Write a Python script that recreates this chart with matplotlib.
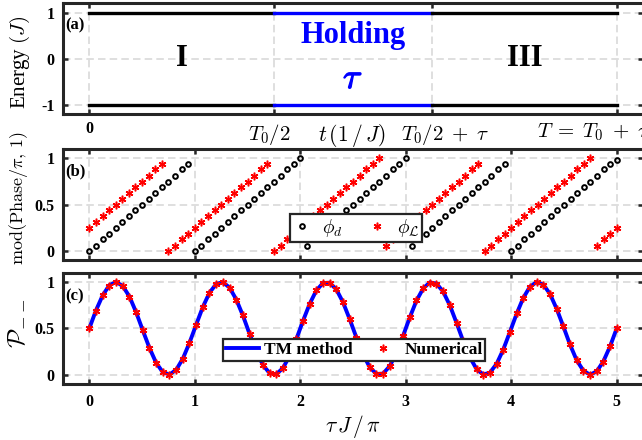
import matplotlib
matplotlib.use("Agg")
import matplotlib.pyplot as plt
import matplotlib.patheffects as pe
from matplotlib.transforms import blended_transform_factory

plt.rcParams["mathtext.fontset"] = "cm"
plt.rcParams["font.family"] = ["Liberation Serif", "DejaVu Serif"]

# (a) protocol: 0, T0/2, T0/2+tau, T (in units of pi/J, T0 = 3.5, tau = 1.5)
t_a = [0.0, 1.75, 3.25, 5.0]
e_levels = [1.0, -1.0]
t_a_labels = ["0", r"$T_0/2$", r"$T_0/2\;+\;\tau$", r"$T\;=\;T_0\;+\;\tau$"]

# (b) phases, tau J / pi
tau_b = [0.0, 0.0625, 0.125, 0.1875, 0.25, 0.3125, 0.375, 0.4375,
         0.5, 0.5625, 0.625, 0.6875, 0.75, 0.8125, 0.875, 0.9375,
         1.0, 1.0625, 1.125, 1.1875, 1.25, 1.3125, 1.375, 1.4375,
         1.5, 1.5625, 1.625, 1.6875, 1.75, 1.8125, 1.875, 1.9375,
         2.0, 2.0625, 2.125, 2.1875, 2.25, 2.3125, 2.375, 2.4375,
         2.5, 2.5625, 2.625, 2.6875, 2.75, 2.8125, 2.875, 2.9375,
         3.0, 3.0625, 3.125, 3.1875, 3.25, 3.3125, 3.375, 3.4375,
         3.5, 3.5625, 3.625, 3.6875, 3.75, 3.8125, 3.875, 3.9375,
         4.0, 4.0625, 4.125, 4.1875, 4.25, 4.3125, 4.375, 4.4375,
         4.5, 4.5625, 4.625, 4.6875, 4.75, 4.8125, 4.875, 4.9375,
         5.0]
phi_d = [0.00, 0.06, 0.13, 0.19, 0.25, 0.31, 0.38, 0.44, 0.50, 0.56, 0.63, 0.69, 0.75, 0.81, 0.88, 0.94,
         0.00, 0.06, 0.13, 0.19, 0.25, 0.31, 0.38, 0.44, 0.50, 0.56, 0.63, 0.69, 0.75, 0.81, 0.88, 0.94,
         1.00, 0.06, 0.13, 0.19, 0.25, 0.31, 0.38, 0.44, 0.50, 0.56, 0.63, 0.69, 0.75, 0.81, 0.88, 0.94,
         1.00, 0.06, 0.13, 0.19, 0.25, 0.31, 0.38, 0.44, 0.50, 0.56, 0.63, 0.69, 0.75, 0.81, 0.88, 0.94,
         0.00, 0.06, 0.13, 0.19, 0.25, 0.31, 0.38, 0.44, 0.50, 0.56, 0.63, 0.69, 0.75, 0.81, 0.88, 0.94,
         0.98]
phi_l = [0.25, 0.31, 0.38, 0.44, 0.50, 0.56, 0.63, 0.69, 0.75, 0.81, 0.88, 0.94, 0.00, 0.06, 0.13, 0.19,
         0.25, 0.31, 0.38, 0.44, 0.50, 0.56, 0.63, 0.69, 0.75, 0.81, 0.88, 0.94, 0.00, 0.06, 0.13, 0.19,
         0.25, 0.31, 0.38, 0.44, 0.50, 0.56, 0.63, 0.69, 0.75, 0.81, 0.88, 0.94, 1.00, 0.06, 0.13, 0.19,
         0.25, 0.31, 0.38, 0.44, 0.50, 0.56, 0.63, 0.69, 0.75, 0.81, 0.88, 0.94, 0.00, 0.06, 0.13, 0.19,
         0.25, 0.31, 0.38, 0.44, 0.50, 0.56, 0.63, 0.69, 0.75, 0.81, 0.88, 0.94, 1.00, 0.06, 0.13, 0.19,
         0.25]

# (c) probability P_--
tau_c = [0.0, 0.063, 0.127, 0.190, 0.253, 0.316, 0.380, 0.443, 0.506, 0.570,
         0.633, 0.696, 0.759, 0.823, 0.886, 0.949, 1.013, 1.076, 1.139, 1.203,
         1.266, 1.329, 1.392, 1.456, 1.519, 1.582, 1.646, 1.709, 1.772, 1.835,
         1.899, 1.962, 2.025, 2.089, 2.152, 2.215, 2.278, 2.342, 2.405, 2.468,
         2.532, 2.595, 2.658, 2.722, 2.785, 2.848, 2.911, 2.975, 3.038, 3.101,
         3.165, 3.228, 3.291, 3.354, 3.418, 3.481, 3.544, 3.608, 3.671, 3.734,
         3.797, 3.861, 3.924, 3.987, 4.051, 4.114, 4.177, 4.241, 4.304, 4.367,
         4.430, 4.494, 4.557, 4.620, 4.684, 4.747, 4.810, 4.873, 4.937, 5.0]
p_tm = [0.500, 0.694, 0.857, 0.965, 1.000, 0.957, 0.843, 0.675, 0.480, 0.288,
        0.129, 0.028, 0.001, 0.052, 0.172, 0.343, 0.540, 0.730, 0.884, 0.978,
        0.998, 0.939, 0.813, 0.638, 0.440, 0.253, 0.104, 0.017, 0.005, 0.071,
        0.203, 0.382, 0.579, 0.764, 0.908, 0.988, 0.992, 0.919, 0.781, 0.599,
        0.401, 0.219, 0.081, 0.008, 0.012, 0.092, 0.236, 0.421, 0.618, 0.797,
        0.930, 0.995, 0.983, 0.896, 0.747, 0.560, 0.363, 0.187, 0.061, 0.002,
        0.022, 0.116, 0.270, 0.460, 0.656, 0.828, 0.948, 0.999, 0.972, 0.871,
        0.712, 0.520, 0.325, 0.157, 0.043, 0.000, 0.035, 0.143, 0.306, 0.500]
p_num = [0.50, 0.69, 0.86, 0.96, 1.00, 0.96, 0.84, 0.68, 0.48, 0.29,
         0.13, 0.03, 0.00, 0.05, 0.17, 0.34, 0.54, 0.73, 0.88, 0.98,
         1.00, 0.94, 0.81, 0.64, 0.44, 0.25, 0.10, 0.02, 0.01, 0.07,
         0.20, 0.38, 0.58, 0.76, 0.91, 0.99, 0.99, 0.92, 0.78, 0.60,
         0.40, 0.22, 0.08, 0.01, 0.01, 0.09, 0.24, 0.42, 0.62, 0.80,
         0.93, 0.99, 0.98, 0.90, 0.75, 0.56, 0.36, 0.19, 0.06, 0.00,
         0.02, 0.12, 0.27, 0.46, 0.66, 0.83, 0.95, 1.00, 0.97, 0.87,
         0.71, 0.52, 0.33, 0.16, 0.04, 0.00, 0.04, 0.14, 0.31, 0.50]

dark = "#262626"
tick_font = {"family": "Liberation Serif", "weight": "bold", "size": 11.5}
star = (6, 2, 0)

fig = plt.figure(figsize=(6.42, 4.40), dpi=100)
ax_a = fig.add_axes([0.0981, 0.7402, 0.9036, 0.2523])
ax_b = fig.add_axes([0.0981, 0.4080, 0.9036, 0.2534])
ax_c = fig.add_axes([0.0981, 0.1273, 0.9036, 0.2530])


def style(ax):
    ax.set_xlim(-0.25, 5.25)
    ax.set_axisbelow(True)
    ax.grid(True, color="#d9d9d9", lw=1.2, ls=(0, (4.5, 2.5)))
    for s in ax.spines.values():
        s.set_linewidth(2.2)
        s.set_color(dark)
    ax.tick_params(direction="in", length=3.5, width=1.8, color=dark,
                   top=True, right=True)
    ax.tick_params(axis="y", pad=6)


# ---- (a)
style(ax_a)
for e in e_levels:
    ax_a.plot(t_a[0:2], [e, e], color="k", lw=2.4)
    ax_a.plot(t_a[1:3], [e, e], color="#0000ff", lw=2.4)
    ax_a.plot(t_a[2:4], [e, e], color="k", lw=2.4)
ax_a.set_ylim(-1.2, 1.2)
ax_a.set_yticks([-1, 0, 1])
ax_a.set_yticklabels(["-1", "0", "1"], fontdict=tick_font)
ax_a.set_xticks(t_a)
ax_a.set_xticklabels([t_a_labels[0], "", "", ""], fontdict=tick_font)
ax_a.tick_params(axis="x", pad=5)
# the math labels under (a) sit a little off their ticks, as in the original
blend = blended_transform_factory(ax_a.transData, ax_a.transAxes)
ax_a.text(1.703, -0.066, t_a_labels[1], transform=blend, ha="center",
          va="top", fontsize=15)
ax_a.text(3.37, -0.066, t_a_labels[2], transform=blend, ha="center",
          va="top", fontsize=15)
ax_a.text(4.244, -0.066, t_a_labels[3], transform=blend, ha="left",
          va="top", fontsize=15)
ax_a.text(0.497, -0.066, r"$t\,(1\,/\,J)$", transform=ax_a.transAxes,
          ha="center", va="top", fontsize=15.5)
ax_a.text(0.875, 0.0, "I", ha="center", va="center",
          fontsize=22, fontweight="bold")
ax_a.text(4.125, 0.0, "III", ha="center", va="center",
          fontsize=22, fontweight="bold")
ax_a.text(2.5, 0.5, "Holding", ha="center", va="center",
          fontsize=22, fontweight="bold", color="#0000ff")
ax_a.text(2.5, -0.45, r"$\tau$", ha="center", va="center", fontsize=25,
          color="#0000ff",
          path_effects=[pe.withStroke(linewidth=1.0, foreground="#0000ff")])
ax_a.set_ylabel(r"Energy $(J)$", fontsize=15)
ax_a.yaxis.set_label_coords(-0.053, 0.467)
ax_a.text(0.004, 0.8, "(a)", transform=ax_a.transAxes, ha="left",
          va="center", fontsize=12, fontweight="bold")

# ---- (b)
style(ax_b)
ax_b.plot(tau_b, phi_d, ls="none", marker="o", ms=3.4, mew=1.4,
          mfc="none", mec="k", label=r"$\phi_d$")
ax_b.plot(tau_b, phi_l, ls="none", marker=star, ms=5.5, mew=1.1,
          color="#ff0000", label=r"$\phi_\mathcal{L}$")
ax_b.set_ylim(-0.1, 1.1)
ax_b.set_yticks([0, 0.5, 1])
ax_b.set_yticklabels(["0", "0.5", "1"], fontdict=tick_font)
ax_b.set_xticks([0, 1, 2, 3, 4, 5])
ax_b.set_xticklabels([])
ax_b.set_ylabel(r"$\mathrm{mod(Phase}/\pi,\,1)$", fontsize=13)
ax_b.yaxis.set_label_coords(-0.057, 0.56)
ax_b.text(0.004, 0.8, "(b)", transform=ax_b.transAxes, ha="left",
          va="center", fontsize=12, fontweight="bold")
leg_b = ax_b.legend(ncol=2, loc="center", bbox_to_anchor=(0.505, 0.29),
                    fontsize=14, frameon=True, fancybox=False, framealpha=1,
                    handlelength=1.0, handletextpad=0.5, columnspacing=1.3,
                    borderpad=0.15, borderaxespad=0)
leg_b.get_frame().set_linewidth(1.6)
leg_b.get_frame().set_edgecolor(dark)

# ---- (c)
style(ax_c)
ax_c.plot(tau_c, p_tm, color="#0000ff", lw=2.8, label="TM method")
ax_c.plot(tau_c, p_num, ls="none", marker=star, ms=5.5, mew=1.1,
          color="#ff0000", label="Numerical")
ax_c.set_ylim(-0.1, 1.1)
ax_c.set_yticks([0, 0.5, 1])
ax_c.set_yticklabels(["0", "0.5", "1"], fontdict=tick_font)
ax_c.set_xticks([0, 1, 2, 3, 4, 5])
ax_c.set_xticklabels(["0", "1", "2", "3", "4", "5"], fontdict=tick_font)
ax_c.tick_params(axis="x", pad=7)
ax_c.set_xlabel(r"$\tau\,J\,/\,\pi$", fontsize=15.5)
ax_c.xaxis.set_label_coords(0.5, -0.262)
ax_c.set_ylabel(r"$\mathcal{P}_{--}$", fontsize=18)
ax_c.yaxis.set_label_coords(-0.062, 0.544)
ax_c.text(0.004, 0.79, "(c)", transform=ax_c.transAxes, ha="left",
          va="center", fontsize=12, fontweight="bold")
leg_c = ax_c.legend(ncol=2, loc="center", bbox_to_anchor=(0.502, 0.306),
                    prop={"family": "Liberation Serif", "weight": "bold",
                          "size": 12.5},
                    numpoints=1, frameon=True, fancybox=False, framealpha=1,
                    handlelength=1.9, handletextpad=0.3, columnspacing=0.8,
                    borderpad=0.15, borderaxespad=0)
leg_c.get_frame().set_linewidth(1.6)
leg_c.get_frame().set_edgecolor(dark)

fig.savefig("out.png", dpi=100)
